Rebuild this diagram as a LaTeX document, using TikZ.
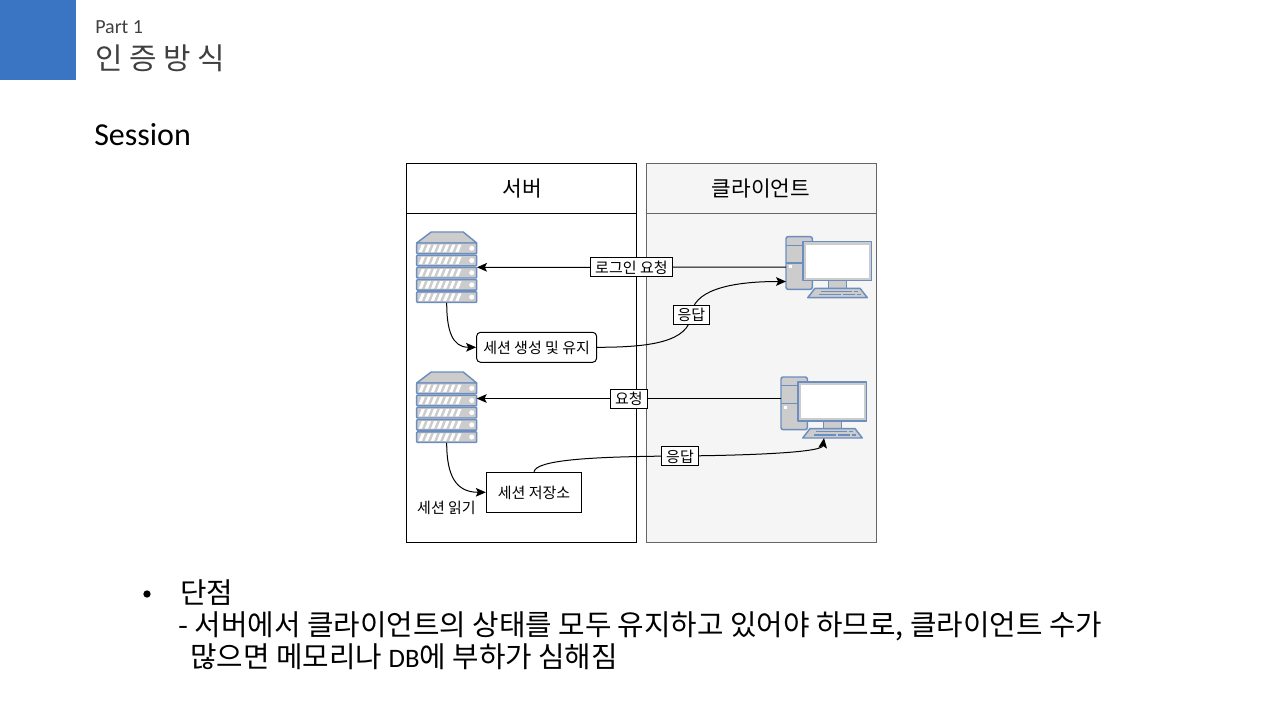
\documentclass[tikz,border=0pt]{standalone}
\usepackage{fontspec}
\setmainfont{Carlito}
\newfontfamily\krfont{Noto Sans CJK KR}
\usetikzlibrary{
  arrows.meta
}
\definecolor{barblue}{RGB}{58, 117, 196}
\definecolor{titlegray}{RGB}{64, 64, 64}
\definecolor{iconblue}{RGB}{108, 142, 191}
\definecolor{iconfill}{RGB}{204, 204, 204}
\definecolor{clientfill}{RGB}{245, 245, 245}
\definecolor{clientline}{RGB}{102, 102, 102}
\tikzset{
  % Panels
  panelA/.style    = {draw=black, line width=.75pt},
  panelB/.style    = {draw=clientline, fill=clientfill, line width=.75pt},
  headtxt/.style   = {font=\krfont\fontsize{16pt}{19pt}\selectfont, inner sep=0pt},
  % Boxes and labels
  boxtxt/.style    = {font=\krfont\fontsize{11.25pt}{13.5pt}\selectfont, inner sep=0pt, text height=10pt, text depth=1pt},
  procbox/.style   = {boxtxt, draw=black, fill=white, line width=.75pt, minimum height=22.5pt},
  edgelab/.style   = {boxtxt, draw=black, fill=white, line width=.75pt, minimum height=14.25pt, inner xsep=3.3pt},
  flowline/.style  = {-{Stealth[length=7.5pt, width=6.5pt, inset=1.6pt]}, line width=.75pt},
  % Icons
  srvbox/.style    = {minimum width=45pt, minimum height=53pt, inner sep=0pt},
  pcbox/.style     = {minimum width=64.3pt, minimum height=45.8pt, inner sep=0pt},
  iconpart/.style  = {draw=iconblue, fill=iconfill, line width=1.1pt, line join=round},
  % Slide text
  bodytxt/.style   = {font=\krfont\fontsize{21.6pt}{25pt}\selectfont, inner sep=0pt, anchor=base west},
}
\newcommand{\srvicon}[1]{
  \begin{scope}[shift={(#1)}]
    \draw[iconpart] (0,11) -- (14.5,0) -- (46.5,0) -- (60,11) -- cycle;
    \foreach \r [evaluate=\r as \ry using 11+12.2*\r] in {0,...,4} {
      \draw[iconpart, rounded corners=.6pt] (0,\ry) rectangle (60,\ry+10.6);
      \foreach \s [evaluate=\s as \sx using 2+6.1*\s] in {0,...,6}
        \fill[white] (\sx,\ry+9) -- (\sx+3.2,\ry+9) -- (\sx+6.2,\ry+1.6) -- (\sx+3,\ry+1.6) -- cycle;
      \fill[white] (55,\ry+5.3) circle (2.5);
    }
  \end{scope}
}
\newcommand{\pcicon}[1]{
  \begin{scope}[shift={(#1)}]
    \draw[iconpart, rounded corners=1.5pt] (0,0) rectangle (26.3,52.6);
    \draw[iconpart] (0,8.6) -- (26.3,8.6) (0,26.3) -- (26.3,26.3);
    \fill[white] (3,28.5) rectangle (6,31.5);
    \draw[iconpart] (42.7,44) rectangle (60.7,51.6);
    \draw[iconpart] (29,51.6) -- (74,51.6) -- (81.3,61) -- (21.7,61) -- cycle;
    \draw[iconblue, line width=1pt] (35,54.6) -- (66,54.6) (68,54.6) -- (72,54.6)
      (33,58) -- (55,58) (57,58) -- (69,58) (71,58) -- (75,58);
    \draw[iconpart] (17,5) rectangle (85.7,44);
    \fill[white] (20,8) rectangle (82.7,41);
  \end{scope}
}
\begin{document}
\begin{tikzpicture}[x=.75pt, y=-.75pt]
  \useasboundingbox (0,0) rectangle (1280,720);
  % Title block
  \fill[barblue] (0,0) rectangle (76,80);
  \node[font=\fontsize{15pt}{18pt}\selectfont, text=titlegray, inner sep=0pt, anchor=base west] (partlab) at (95,34) {Part 1};
  \node[font=\krfont\fontsize{22.4pt}{26pt}\selectfont, text=titlegray, inner sep=0pt, anchor=base west] (titlelab) at (95,69.5) {인 증 방 식};
  \node[font=\fontsize{24pt}{29pt}\selectfont, inner sep=0pt, anchor=base west] (sessionlab) at (94,146) {Session};
  % Panels
  \draw[panelA] (406.5,163.5) rectangle (636.5,542.5);
  \draw[panelA] (406.5,213.5) -- (636.5,213.5);
  \draw[panelB] (646.5,163.5) rectangle (876.5,542.5);
  \draw[panelB] (646.5,213.5) -- (876.5,213.5);
  \node[headtxt] (srvhead) at (522,189) {서버};
  \node[headtxt] (clienthead) at (761,189) {클라이언트};
  % Icons
  \srvicon{416.7,232}
  \srvicon{416.7,372}
  \pcicon{786,236.7}
  \pcicon{781,377}
  \node[srvbox] (srvA) at (446.7,267.3) {};
  \node[srvbox] (srvB) at (446.7,407.3) {};
  \node[pcbox] (pcA) at (829,267.2) {};
  \node[pcbox] (pcB) at (824,407.3) {};
  \coordinate (srvBin) at (476.7,398.5);
  \coordinate (pcBout) at (781,398.5);
  \coordinate (pcAin) at (786,281.5);
  % Boxes
  \node[procbox, rounded corners=3pt, minimum width=90pt] (sessmake) at (536.6,347.3) {세션 생성 및 유지};
  \node[procbox, minimum width=71.5pt, minimum height=30pt] (sessstore) at (534,492.3) {세션 저장소};
  \node[boxtxt] (sessread) at (446.5,507) {세션 읽기};
  % First exchange
  \draw[flowline] (pcA.west) -- (srvA.east) node[midway, edgelab] (lblogin) {로그인 요청};
  \draw[flowline] (srvA.south) .. controls (446.7,330) and (452,347.3) .. (sessmake.west);
  \draw[flowline] (sessmake.east) .. controls (650,347.3) and (689,342) .. (691.3,314.8)
    node[edgelab] (lbanswerA) {응답} .. controls (693,292) and (725,281.5) .. (pcAin);
  % Second exchange
  \draw[flowline] (pcBout) -- (srvBin) node[midway, edgelab] (lbrequest) {요청};
  \draw[flowline] (srvB.south) .. controls (446.7,476) and (456,492.3) .. (sessstore.west);
  \draw[flowline] (sessstore.north) .. controls (536,460) and (590,456.5) .. (680,456)
    node[edgelab] (lbanswerB) {응답} .. controls (740,455.5) and (822,453) .. (pcB.south);
  % Bullet text
  \node[circle, fill=black, minimum size=5.5pt, inner sep=0pt] (bulletdot) at (147,594) {};
  \node[bodytxt] (bodyA) at (180,603) {단점};
  \node[bodytxt] (bodyB) at (178,635) {- 서버에서 클라이언트의 상태를 모두 유지하고 있어야 하므로, 클라이언트 수가};
  \node[bodytxt] (bodyC) at (190,667) {많으면 메모리나 {\normalfont\fontsize{20pt}{24pt}\selectfont DB}에 부하가 심해짐};
\end{tikzpicture}
\end{document}
